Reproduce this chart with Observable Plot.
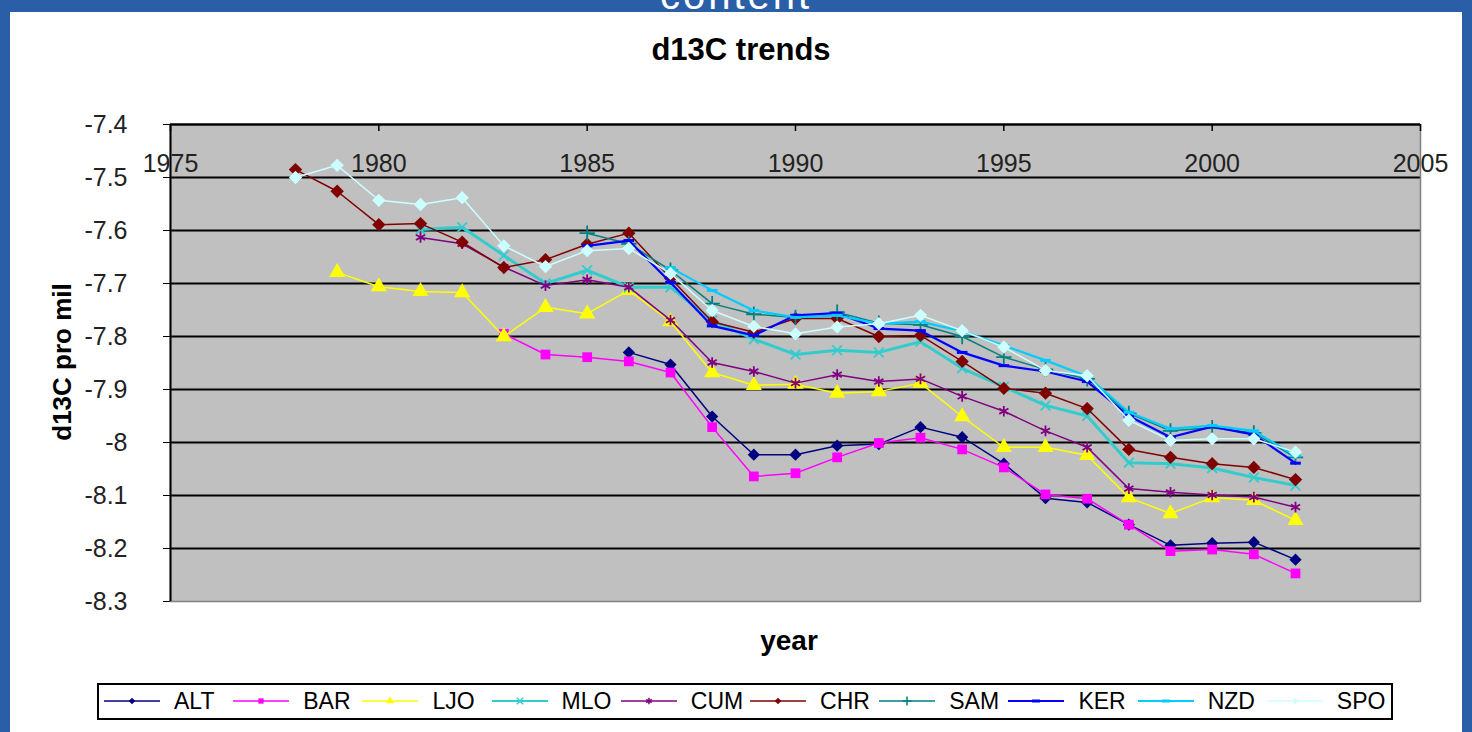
<!DOCTYPE html>
<html><head><meta charset="utf-8">
<script src="https://cdn.jsdelivr.net/npm/d3@7"></script>
<script src="https://cdn.jsdelivr.net/npm/@observablehq/plot@0.6"></script>
<style>
body{margin:0;width:1472px;height:732px;background:#2A5EA6;position:relative;overflow:hidden;font-family:"Liberation Sans",Arial,sans-serif;}
#content{position:absolute;left:0;width:1472px;top:-27px;text-align:center;color:#fff;font-size:40px;z-index:0;letter-spacing:3px;}
#panel{position:absolute;left:10px;top:12px;width:1452px;height:720px;background:#fff;z-index:1;}
#title{position:absolute;left:0;width:1462px;top:20px;text-align:center;font-weight:bold;font-size:31px;color:#000;}
#chart{position:absolute;left:0;top:88px;}
#ylab{position:absolute;left:52px;top:350px;width:0;height:0;}
#ylab span{position:absolute;transform:translate(-50%,-50%) rotate(-90deg);white-space:nowrap;font-weight:bold;font-size:26px;}
#xlab{position:absolute;left:0;width:1558px;top:613px;text-align:center;font-weight:bold;font-size:28px;}
#legend{position:absolute;left:87px;top:671px;width:1292px;height:33px;border:2px solid #000;display:flex;align-items:center;}
.item{position:relative;width:130px;height:33px;font-size:23px;}
.item svg{position:absolute;left:3px;top:6px;}
.item span{position:absolute;left:75px;top:3px;color:#000;}
</style></head>
<body>
<div id="content">content</div>
<div id="panel">
  <div id="title">d13C trends</div>
  <div id="chart"></div>
  <div id="ylab"><span>d13C pro mil</span></div>
  <div id="xlab">year</div>
  <div id="legend"></div>
</div>
<script>
const years = [1978,1979,1980,1981,1982,1983,1984,1985,1986,1987,1988,1989,1990,1991,1992,1993,1994,1995,1996,1997,1998,1999,2000,2001,2002];
const seriesNames = ["ALT","BAR","LJO","MLO","CUM","CHR","SAM","KER","NZD","SPO"];
const xTicks = [1975,1980,1985,1990,1995,2000,2005];
const yTicks = [-7.4,-7.5,-7.6,-7.7,-7.8,-7.9,-8,-8.1,-8.2,-8.3];

const ALT = [null,null,null,null,null,null,null,null,-7.830,-7.853,-7.951,-8.023,-8.023,-8.006,-8.003,-7.971,-7.990,-8.040,-8.105,-8.113,-8.155,-8.194,-8.190,-8.188,-8.221];
const BAR = [null,null,null,null,null,-7.795,-7.834,-7.839,-7.847,-7.868,-7.971,-8.064,-8.058,-8.028,-8.001,-7.991,-8.013,-8.047,-8.098,-8.106,-8.155,-8.205,-8.202,-8.211,-8.247];
const LJO = [null,-7.679,-7.706,-7.715,-7.717,-7.800,-7.745,-7.757,-7.713,-7.772,-7.868,-7.892,-7.890,-7.907,-7.904,-7.888,-7.951,-8.009,-8.009,-8.024,-8.104,-8.134,-8.104,-8.109,-8.147];
const MLO = [null,null,null,-7.598,-7.594,-7.647,-7.700,-7.675,-7.707,-7.707,-7.770,-7.805,-7.834,-7.826,-7.830,-7.810,-7.860,-7.895,-7.930,-7.950,-8.038,-8.040,-8.048,-8.066,-8.081];
const CUM = [null,null,null,-7.613,-7.625,-7.669,-7.704,-7.693,-7.707,-7.769,-7.849,-7.866,-7.888,-7.872,-7.885,-7.880,-7.913,-7.941,-7.978,-8.009,-8.087,-8.094,-8.099,-8.103,-8.122];
const CHR = [-7.485,-7.526,-7.589,-7.587,-7.622,-7.670,-7.655,-7.626,-7.605,-7.690,-7.772,-7.792,-7.766,-7.766,-7.800,-7.798,-7.847,-7.898,-7.907,-7.936,-8.013,-8.028,-8.040,-8.047,-8.070];
const SAM = [null,null,null,null,null,null,null,-7.605,-7.625,-7.675,-7.738,-7.758,-7.764,-7.754,-7.775,-7.778,-7.800,-7.839,-7.862,-7.880,-7.945,-7.978,-7.972,-7.982,-8.028];
const KER = [null,null,null,null,null,null,null,-7.629,-7.619,-7.698,-7.780,-7.798,-7.760,-7.756,-7.785,-7.789,-7.830,-7.855,-7.866,-7.885,-7.950,-7.990,-7.970,-7.985,-8.039];
const NZD = [null,null,null,null,null,null,null,null,null,-7.670,-7.713,-7.751,-7.764,-7.760,-7.776,-7.772,-7.790,-7.817,-7.845,-7.875,-7.943,-7.974,-7.968,-7.978,-8.025];
const SPO = [-7.500,-7.477,-7.543,-7.551,-7.538,-7.629,-7.668,-7.638,-7.634,-7.681,-7.751,-7.781,-7.795,-7.782,-7.776,-7.760,-7.789,-7.820,-7.864,-7.874,-7.958,-7.996,-7.993,-7.993,-8.018];

const seriesValues = {ALT,BAR,LJO,MLO,CUM,CHR,SAM,KER,NZD,SPO};

// custom short-dash marker
const dash = {draw(ctx, size){ const w = Math.sqrt(size) * 0.75; ctx.moveTo(-w,-1.5); ctx.lineTo(w,-1.5); ctx.lineTo(w,1.5); ctx.lineTo(-w,1.5); ctx.closePath(); }};

const style = {
  ALT:{color:"#000080", symbol:"diamond2", filled:true, r:5.5, sw:1.5},
  BAR:{color:"#FF00FF", symbol:"square", filled:true, r:5.5, sw:1.5},
  LJO:{color:"#FFFF00", symbol:"triangle", filled:true, r:6, sw:1.5},
  MLO:{color:"#33CCCC", symbol:"times", filled:false, r:4.5, sw:3},
  CUM:{color:"#800080", symbol:"asterisk", filled:false, r:5, sw:1.5},
  CHR:{color:"#800000", symbol:"diamond2", filled:true, r:6, sw:1.5},
  SAM:{color:"#008080", symbol:"plus", filled:false, r:5, sw:1.5},
  KER:{color:"#0000FF", symbol:dash, filled:true, r:4, sw:2.2},
  NZD:{color:"#00CCFF", symbol:dash, filled:true, r:4, sw:2.2},
  SPO:{color:"#CCFFFF", symbol:"diamond2", filled:true, r:6, sw:1.5}
};

const rowsOf = name => years.map((yr,i)=>({year:yr, value:seriesValues[name][i]})).filter(d=>d.value!=null);

const marks = [
  Plot.frame({fill:"#C0C0C0"}),
  Plot.ruleY(yTicks.filter(v=>v>-8.3), {y:d=>d, stroke:"#000", strokeWidth:2}),
  Plot.frame({stroke:"#808080", strokeWidth:1.5}),
  Plot.ruleY([-7.4], {y:d=>d, stroke:"#000", strokeWidth:2})
];
for (const name of seriesNames) {
  const s = style[name], rows = rowsOf(name);
  marks.push(Plot.line(rows, {x:"year", y:"value", stroke:s.color, strokeWidth:s.sw}));
  marks.push(Plot.dot(rows, s.filled
    ? {x:"year", y:"value", symbol:s.symbol, fill:s.color, stroke:"none", r:s.r}
    : {x:"year", y:"value", symbol:s.symbol, fill:"none", stroke:s.color, strokeWidth:1.8, r:s.r}));
}
marks.push(
  Plot.ruleX([1975], {x:d=>d, stroke:"#000", strokeWidth:2}),
  Plot.ruleX(xTicks, {x:d=>d, insetBottom:470, stroke:"#000", strokeWidth:1.5}),
  Plot.text(xTicks, {x:d=>d, frameAnchor:"top", dy:30, text:d=>String(d), fontSize:25, fill:"#222"}),
  Plot.axisY(yTicks, {tickSize:7, tickPadding:36, stroke:"#000", fontSize:25, fill:"#222", label:null,
    tickFormat:d=>String(Math.round(d*10)/10)})
);

const chart = Plot.plot({
  width:1452, height:540,
  marginLeft:160, marginRight:42, marginTop:24, marginBottom:39,
  x:{domain:[1975,2005], axis:null},
  y:{domain:[-8.3,-7.4]},
  style:{fontFamily:"Liberation Sans, Arial, sans-serif", background:"transparent", overflow:"visible"},
  marks
});
document.getElementById("chart").appendChild(chart);

// legend
const leg = document.getElementById("legend");
const symMap = {diamond2:d3.symbolDiamond2, square:d3.symbolSquare, triangle:d3.symbolTriangle, times:d3.symbolTimes, asterisk:d3.symbolAsterisk, plus:d3.symbolPlus};
for (const name of seriesNames) {
  const s = style[name];
  const item = document.createElement("div");
  item.className = "item";
  const svg = d3.create("svg").attr("width",62).attr("height",20);
  svg.append("line").attr("x1",2).attr("x2",58).attr("y1",10).attr("y2",10).attr("stroke",s.color).attr("stroke-width",Math.min(s.sw,2));
  const t = typeof s.symbol === "string" ? symMap[s.symbol] : s.symbol;
  const path = d3.symbol(t, 28)();
  svg.append("path").attr("d",path).attr("transform","translate(30,10)")
    .attr("fill", s.filled ? s.color : "none").attr("stroke", s.filled ? "none" : s.color).attr("stroke-width",1.5);
  item.appendChild(svg.node());
  const sp = document.createElement("span"); sp.textContent = name; item.appendChild(sp);
  leg.appendChild(item);
}
</script>
</body></html>
